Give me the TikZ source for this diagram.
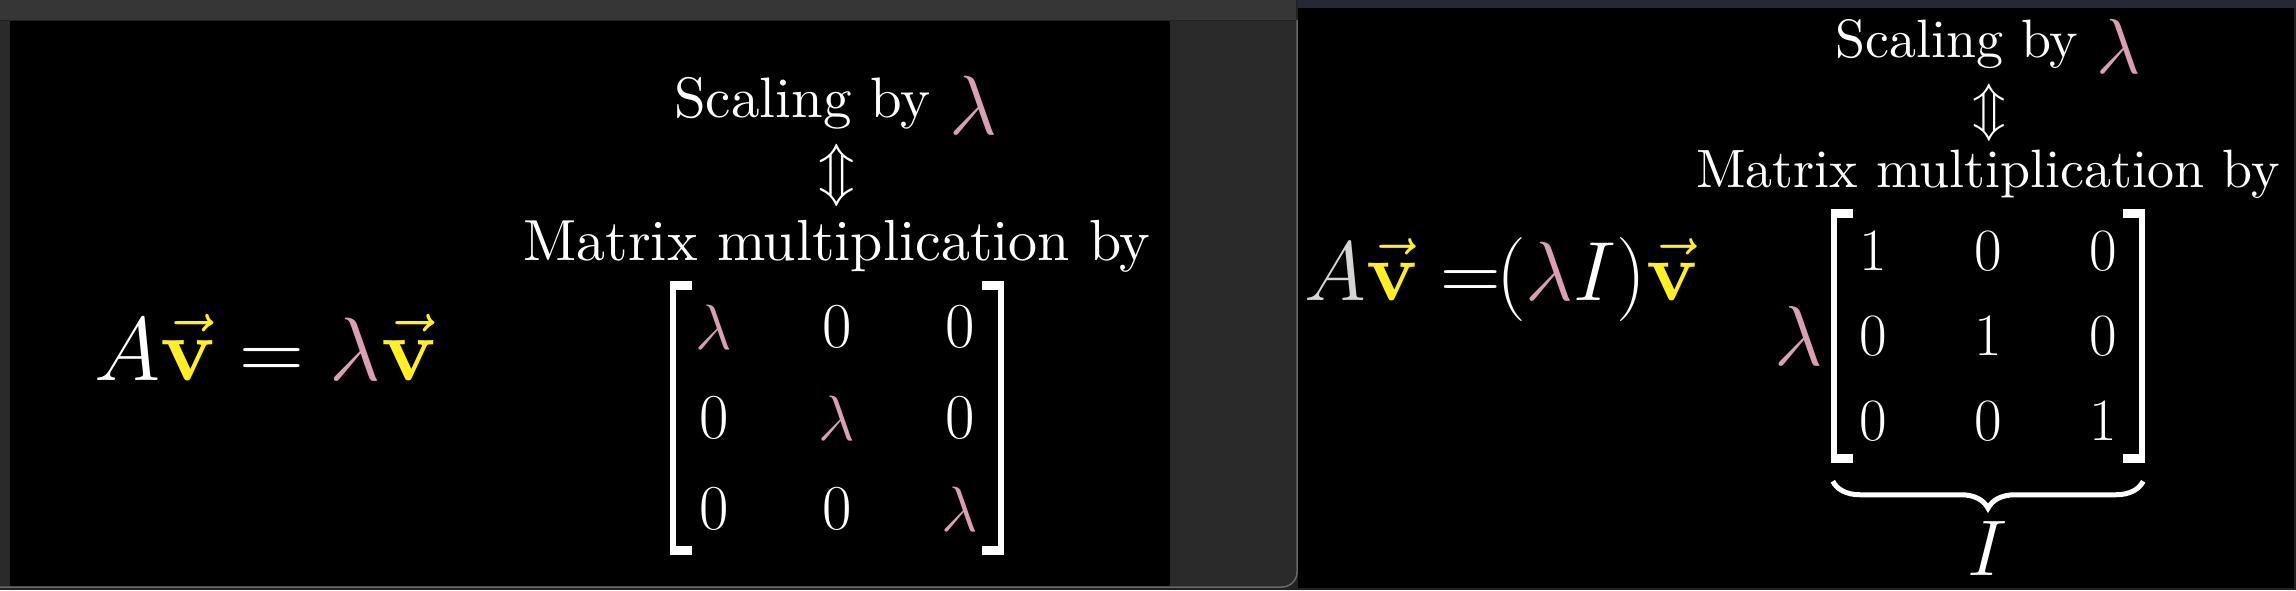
\RequirePackage{fix-cm}
\documentclass[tikz,border=0pt]{standalone}
\usepackage{amsmath}
\usepackage{fontspec}
\setmainfont{lmroman10-regular.otf}[BoldFont=lmroman10-bold.otf]
\usetikzlibrary{matrix,positioning,decorations.pathreplacing}

\definecolor{lampink}{RGB}{216,160,176}
\definecolor{vecyellow}{RGB}{255,238,40}
\definecolor{agray}{RGB}{212,212,212}
\definecolor{bargray}{RGB}{54,54,54}
\definecolor{sidegray}{RGB}{42,42,42}
\definecolor{edgegray}{RGB}{105,105,105}
\definecolor{navybar}{RGB}{38,40,56}

\newcommand{\lam}{{\color{lampink}\lambda}}
\newcommand{\vecv}{{\color{vecyellow}\vec{\mathbf{v}}}}
\newcommand{\biglam}[1]{\raisebox{-0.29em}{\fontsize{#1}{#1}\selectfont$\lam$}}

\begin{document}
\begin{tikzpicture}[x=1pt,y=1pt,
  txt/.style={text=white, inner sep=0pt, anchor=base},
  mat/.style={matrix of math nodes, inner sep=0pt, row sep=0pt,
    nodes={anchor=center, inner sep=0pt, text=white}},
  bracket/.style={fill=white}
]
% window frames
\useasboundingbox (0,0) rectangle (2296,590);
\fill[sidegray!80!black] (0,0) rectangle (2296,590);
\fill[bargray] (0,570) rectangle (1296,590);
\fill[sidegray] (0,4) rectangle (10,569);
\fill[black] (10,4) rectangle (1170,569);
\fill[sidegray] (1170,569) -- (1296,569) -- (1296,18)
  arc[start angle=0, end angle=-90, radius=14] -- (1170,4) -- cycle;
\draw[edgegray, line width=1.5] (1297,570) -- (1297,18)
  arc[start angle=0, end angle=-90, radius=15] -- (0,3);
\fill[black] (1298,2) rectangle (2294,582);
\fill[navybar] (1298,582) rectangle (2296,590);

% left panel
\node[txt, font=\fontsize{90}{90}\selectfont] (eqL) at (265,210) {$A\vecv = \lam\vecv$};
\node[txt, font=\fontsize{57}{57}\selectfont] (scaleL) at (836,472) {Scaling by \biglam{84}};
\node[txt, anchor=center, font=\fontsize{60}{60}\selectfont] (arrL) at (837,414) {$\Updownarrow$};
\node[txt, font=\fontsize{58}{58}\selectfont] (multL) at (837,330) {Matrix multiplication by};
\matrix (mL) at (837,172) [mat, column sep=39pt,
  nodes={minimum width=84pt, minimum height=91pt, font=\fontsize{64}{64}\selectfont}] {
  \lam & 0 & 0 \\
  0 & \lam & 0 \\
  0 & 0 & \lam \\
};

% right panel
\node[txt, font=\fontsize{84}{84}\selectfont] (eqR) at (1501,290)
  {${\color{agray}A}\vecv\;{=}\mkern-1mu(\lam I)\vecv$};
\node[txt, font=\fontsize{54}{54}\selectfont] (scaleR) at (1988,532) {Scaling by \biglam{78}};
\node[txt, anchor=center, font=\fontsize{55}{55}\selectfont] (arrR) at (1989,477) {$\Updownarrow$};
\node[txt, font=\fontsize{54}{54}\selectfont] (multR) at (1988,402) {Matrix multiplication by};
\matrix (mR) at (1988,254) [mat, column sep=35pt,
  nodes={minimum width=80pt, minimum height=84.7pt, font=\fontsize{60}{60}\selectfont}] {
  1 & 0 & 0 \\
  0 & 1 & 0 \\
  0 & 0 & 1 \\
};
\node[txt, anchor=east, font=\fontsize{85}{85}\selectfont, left=10pt of mR] (lamR) {$\lam$};
\draw[white, line width=5pt, decorate, decoration={brace, amplitude=27pt, raise=18pt}]
  (mR.south east) -- (mR.south west);
\node[txt, anchor=north, font=\fontsize{79}{79}\selectfont, below=58pt of mR.south] (Ilab) {$I$};

% brackets
\foreach \m in {mL,mR} {
  \fill[bracket] ([xshift=-2pt]\m.north west) rectangle ([xshift=4pt]\m.south west);
  \fill[bracket] ([xshift=-2pt]\m.north west) rectangle ([xshift=20pt,yshift=-9pt]\m.north west);
  \fill[bracket] ([xshift=-2pt]\m.south west) rectangle ([xshift=20pt,yshift=9pt]\m.south west);
  \fill[bracket] ([xshift=2pt]\m.north east) rectangle ([xshift=-4pt]\m.south east);
  \fill[bracket] ([xshift=2pt]\m.north east) rectangle ([xshift=-20pt,yshift=-9pt]\m.north east);
  \fill[bracket] ([xshift=2pt]\m.south east) rectangle ([xshift=-20pt,yshift=9pt]\m.south east);
}
\end{tikzpicture}
\end{document}
